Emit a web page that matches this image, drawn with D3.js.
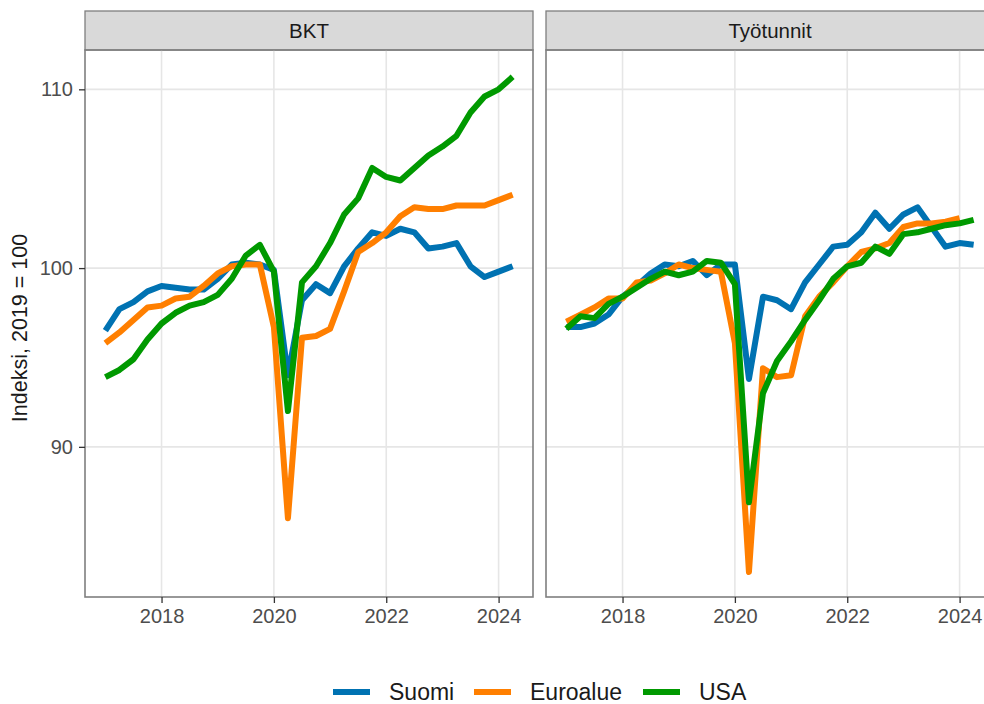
<!DOCTYPE html>
<meta charset="utf-8">
<title>BKT ja työtunnit</title>
<style>
  body { margin: 0; background: #fff; }
  text { font-family: "Liberation Sans", Arial, sans-serif; }
</style>
<body>
<script src="https://d3js.org/d3.v7.min.js"></script>
<script>

// neljännekset 2017Q1 - 2024Q2
var quarters = d3.range(30).map(function(i) { return 2017 + i / 4; });

var series = ["Suomi", "Euroalue", "USA"];
var panels = ["BKT", "Työtunnit"];
var yTicks = [90, 100, 110];
var xTicks = [2018, 2020, 2022, 2024];

var bktSuomi = [96.5, 97.7, 98.1, 98.7, 99.0, 98.9, 98.8, 98.8, 99.4, 100.2,
  100.3, 100.2, 99.9, 94.0, 98.2, 99.1, 98.6, 100.1, 101.1, 102.0,
  101.8, 102.2, 102.0, 101.1, 101.2, 101.4, 100.1, 99.5, 99.8, 100.1];
var bktEuro = [95.8, 96.4, 97.1, 97.8, 97.9, 98.3, 98.4, 99.0, 99.7, 100.1,
  100.2, 100.2, 96.7, 86.0, 96.1, 96.2, 96.6, 98.7, 100.9, 101.4,
  102.0, 102.9, 103.4, 103.3, 103.3, 103.5, 103.5, 103.5, 103.8, 104.1];
var bktUsa = [93.9, 94.3, 94.9, 96.0, 96.9, 97.5, 97.9, 98.1, 98.5, 99.4,
  100.7, 101.3, 99.8, 92.0, 99.2, 100.1, 101.4, 103.0, 103.9, 105.6,
  105.1, 104.9, 105.6, 106.3, 106.8, 107.4, 108.7, 109.6, 110.0, 110.7];

var tunnitSuomi = [96.7, 96.7, 96.9, 97.4, 98.4, 99.0, 99.7, 100.2, 100.1, 100.4,
  99.6, 100.2, 100.2, 93.8, 98.4, 98.2, 97.7, 99.2, 100.2, 101.2,
  101.3, 102.0, 103.1, 102.2, 103.0, 103.4, 102.3, 101.2, 101.4, 101.3];
var tunnitEuro = [97.0, 97.4, 97.8, 98.3, 98.3, 99.2, 99.3, 99.7, 100.2, 100.0,
  99.9, 99.8, 95.8, 83.0, 94.4, 93.9, 94.0, 97.3, 98.4, 99.2,
  100.1, 100.9, 101.1, 101.4, 102.3, 102.5, 102.5, 102.6, 102.8, null];
var tunnitUsa = [96.6, 97.3, 97.2, 98.0, 98.4, 98.9, 99.4, 99.8, 99.6, 99.8,
  100.4, 100.3, 99.1, 86.9, 93.0, 94.8, 95.9, 97.1, 98.2, 99.4,
  100.1, 100.3, 101.2, 100.8, 101.9, 102.0, 102.2, 102.4, 102.5, 102.7];

var panelData = [
  [bktSuomi, bktEuro, bktUsa],
  [tunnitSuomi, tunnitEuro, tunnitUsa]
];

var colors = d3.scaleOrdinal()
    .domain(series)
    .range(["#0072B2", "#FF7F00", "#009900"]);

var width = 984,
    height = 704,
    panelLeft = [85, 546],
    panelW = 448,
    stripTop = 11,
    panelTop = 50,
    panelBottom = 597;

var svg = d3.select("body").append("svg")
    .attr("width", width)
    .attr("height", height);

var x = d3.scaleLinear()
    .domain([2016.6375, 2024.6125])
    .range([0, panelW]);

var y = d3.scaleLinear()
    .domain([81.6, 112.2])
    .range([panelBottom, panelTop]);

var line = d3.line()
    .defined(function(d) { return d[1] != null; })
    .x(function(d) { return x(d[0]); })
    .y(function(d) { return y(d[1]); });

panels.forEach(function(name, p) {
  var g = svg.append("g")
      .attr("transform", "translate(" + panelLeft[p] + ",0)");

  // strip
  g.append("rect")
      .attr("x", 0).attr("y", stripTop)
      .attr("width", panelW).attr("height", panelTop - stripTop)
      .attr("fill", "#d9d9d9")
      .attr("stroke", "#7f7f7f")
      .attr("stroke-width", 1.3);
  g.append("text")
      .attr("x", panelW / 2)
      .attr("y", (stripTop + panelTop) / 2)
      .attr("dy", "0.36em")
      .attr("text-anchor", "middle")
      .attr("font-size", 20.5)
      .attr("fill", "#1a1a1a")
      .text(name);

  // grid
  var grid = g.append("g");
  grid.selectAll("line.gy")
      .data(yTicks)
      .enter().append("line")
      .attr("x1", 0).attr("x2", panelW)
      .attr("y1", function(d) { return y(d); })
      .attr("y2", function(d) { return y(d); })
      .attr("stroke", "#e6e6e6")
      .attr("stroke-width", 1.6);
  grid.selectAll("line.gx")
      .data(xTicks)
      .enter().append("line")
      .attr("y1", panelTop).attr("y2", panelBottom)
      .attr("x1", function(d) { return x(d); })
      .attr("x2", function(d) { return x(d); })
      .attr("stroke", "#e6e6e6")
      .attr("stroke-width", 1.6);

  // lines
  var clipId = "clip" + p;
  g.append("clipPath").attr("id", clipId)
    .append("rect")
      .attr("x", 0).attr("y", panelTop)
      .attr("width", panelW).attr("height", panelBottom - panelTop);

  g.append("g")
      .attr("clip-path", "url(#" + clipId + ")")
    .selectAll("path")
    .data(panelData[p])
    .enter().append("path")
      .attr("d", function(vals) {
        return line(vals.map(function(v, i) { return [quarters[i], v]; }));
      })
      .attr("fill", "none")
      .attr("stroke", function(d, i) { return colors(series[i]); })
      .attr("stroke-width", 6)
      .attr("stroke-linejoin", "round");

  // border
  g.append("rect")
      .attr("x", 0).attr("y", panelTop)
      .attr("width", panelW).attr("height", panelBottom - panelTop)
      .attr("fill", "none")
      .attr("stroke", "#7f7f7f")
      .attr("stroke-width", 1.6);

  // x-akseli
  var xAxis = g.append("g")
      .attr("transform", "translate(0," + panelBottom + ")")
      .call(d3.axisBottom(x).tickValues(xTicks).tickFormat(d3.format("d"))
            .tickSize(6).tickPadding(6));
  xAxis.select(".domain").remove();
  xAxis.selectAll("line").attr("stroke", "#333").attr("stroke-width", 1.3);
  xAxis.selectAll("text")
      .attr("font-size", 20)
      .attr("fill", "#4d4d4d")
      .attr("font-family", "Liberation Sans, Arial, sans-serif");

  if (p === 0) {
    var yAxis = g.append("g")
        .call(d3.axisLeft(y).tickValues(yTicks).tickSize(6).tickPadding(6));
    yAxis.select(".domain").remove();
    yAxis.selectAll("line").attr("stroke", "#333").attr("stroke-width", 1.3);
    yAxis.selectAll("text")
        .attr("font-size", 20)
        .attr("fill", "#4d4d4d")
        .attr("font-family", "Liberation Sans, Arial, sans-serif");
  }
});

// y-akselin otsikko
svg.append("text")
    .attr("transform", "translate(27,328) rotate(-90)")
    .attr("text-anchor", "middle")
    .attr("font-size", 21.5)
    .attr("fill", "#1a1a1a")
    .text("Indeksi, 2019 = 100");

// selite
var legendX = [333, 474, 643];
var legend = svg.append("g")
    .attr("transform", "translate(0,692)");
series.forEach(function(s, i) {
  legend.append("line")
      .attr("x1", legendX[i]).attr("x2", legendX[i] + 37)
      .attr("y1", 0).attr("y2", 0)
      .attr("stroke", colors(s))
      .attr("stroke-width", 6);
  legend.append("text")
      .attr("x", legendX[i] + 56)
      .attr("y", 0)
      .attr("dy", "0.36em")
      .attr("font-size", 23)
      .attr("fill", "#1a1a1a")
      .text(s);
});

</script>
</body>
